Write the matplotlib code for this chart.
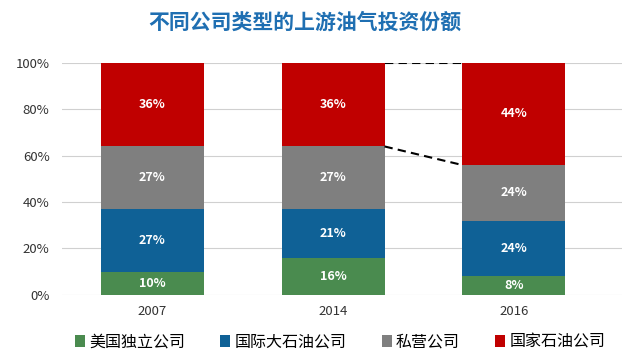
import matplotlib
matplotlib.use("Agg")
import matplotlib.pyplot as plt
import numpy as np

plt.rcParams["font.family"] = ["Noto Sans CJK SC", "DejaVu Sans"]

years = ["2007", "2014", "2016"]
series = ["美国独立公司", "国际大石油公司", "私营公司", "国家石油公司"]
us_independent = [10, 16, 8]
intl_majors = [27, 21, 24]
private = [27, 27, 24]
national = [36, 36, 44]
colors = ["#4a8b4f", "#0f6196", "#7f7f7f", "#c00000"]

data = [us_independent, intl_majors, private, national]

fig = plt.figure(figsize=(6.4, 3.64), dpi=100)
ax = fig.add_axes([0.097, 0.19, 0.875, 0.637])

x = np.arange(len(years))
width = 0.57
bottom = np.zeros(len(years))
for vals, name, c in zip(data, series, colors):
    vals = np.array(vals, dtype=float)
    ax.bar(x, vals, width, bottom=bottom, color=c, label=name, zorder=2)
    for xi, b, v in zip(x, bottom, vals):
        ax.text(xi, b + v / 2, f"{int(v)}%", ha="center", va="center",
                color="white", fontsize=9, fontweight="bold", zorder=3)
    bottom += vals

# dashed connectors between 2014 and 2016
top_2014 = sum(d[1] for d in data)
top_2016 = sum(d[2] for d in data)
gray_2014 = sum(d[1] for d in data[:3])
gray_2016 = sum(d[2] for d in data[:3])
x0, x1 = x[1] + width / 2, x[2] - width / 2
for y0, y1 in [(top_2014, top_2016), (gray_2014, gray_2016)]:
    ax.plot([x0, x1], [y0, y1], color="black", linestyle=(0, (4, 2.5)),
            linewidth=1.5, zorder=3)

ax.set_ylim(0, 100)
ax.set_xlim(-0.5, 2.6)
ax.set_yticks(range(0, 101, 20))
ax.set_yticklabels([f"{v}%" for v in range(0, 101, 20)])
ax.set_xticks(x)
ax.set_xticklabels(years)
ax.yaxis.grid(True, color="#d0d0d0", linewidth=0.8, zorder=0)
ax.set_axisbelow(True)
for s in ax.spines.values():
    s.set_visible(False)
ax.tick_params(axis="both", length=0, labelsize=9.5, colors="#333333")
ax.tick_params(axis="y", pad=9)
ax.tick_params(axis="x", pad=7)

fig.text(0.477, 0.94, "不同公司类型的上游油气投资份额", ha="center", va="center",
         fontsize=15, fontweight="bold", color="#1f6fb2")

fig.legend(loc="center left", bbox_to_anchor=(0.094, 0.06), ncol=4,
           frameon=False, fontsize=11.5, handlelength=0.65, handleheight=0.8,
           handletextpad=0.25, columnspacing=2.2)

plt.savefig("out.png", dpi=100)
plt.close(fig)
